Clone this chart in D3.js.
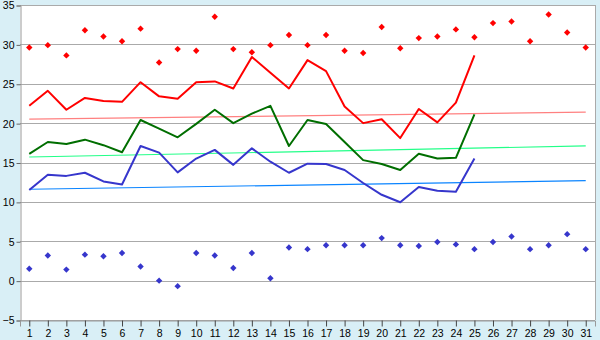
<!DOCTYPE html>
<html>
<head>
<meta charset="utf-8">
<script src="https://cdn.jsdelivr.net/npm/d3@7"></script>
<style>
  body { margin: 0; background: #d9eff6; }
  svg { display: block; }
  text { font-family: "Liberation Sans", Arial, sans-serif; font-size: 10.5px; fill: #000; }
</style>
</head>
<body>
<div id="chart"></div>
<script>
// days of the month
var days = d3.range(1, 32);

// daily maximum / minimum markers
var maxTemp = [29.6, 29.9, 28.6, 31.8, 31.0, 30.4, 32.0, 27.7, 29.4, 29.2,
               33.5, 29.4, 29.0, 29.9, 31.2, 29.9, 31.2, 29.2, 28.9, 32.2,
               29.5, 30.8, 31.0, 31.9, 30.9, 32.7, 32.9, 30.4, 33.8, 31.5, 29.6];
var minTemp = [1.5, 3.2, 1.4, 3.3, 3.1, 3.5, 1.8, 0.0, -0.7, 3.5,
               3.2, 1.6, 3.5, 0.3, 4.2, 4.0, 4.5, 4.5, 4.5, 5.4,
               4.5, 4.4, 4.9, 4.6, 4.0, 4.9, 5.6, 4.0, 4.5, 5.9, 4.0];

// line series (days 1..25)
var redLine   = [22.2, 24.1, 21.7, 23.2, 22.8, 22.7, 25.2, 23.4, 23.1, 25.2,
                 25.3, 24.4, 28.4, 26.4, 24.4, 28.0, 26.6, 22.1, 20.0, 20.5,
                 18.1, 21.8, 20.1, 22.6, 28.6];
var greenLine = [16.1, 17.6, 17.35, 17.9, 17.2, 16.3, 20.4, 19.3, 18.2, 19.9,
                 21.7, 20.0, 21.2, 22.2, 17.1, 20.4, 19.9, 17.6, 15.3, 14.8,
                 14.05, 16.1, 15.5, 15.6, 21.1];
var blueLine  = [11.5, 13.45, 13.3, 13.7, 12.6, 12.2, 17.1, 16.25, 13.75, 15.5,
                 16.6, 14.7, 16.8, 15.1, 13.7, 14.85, 14.8, 14.05, 12.4, 10.9,
                 9.95, 11.9, 11.4, 11.3, 15.5];

// trend lines: value at day 1 and at day 31
var trendDays  = [1, 31];
var redTrend   = [20.5, 21.4];
var greenTrend = [15.7, 17.1];
var blueTrend  = [11.6, 12.7];

var yTicks = [-5, 0, 5, 10, 15, 20, 25, 30, 35];

var width = 600, height = 340;
var plot = {left: 20, right: 595, top: 5, bottom: 320};

var x = d3.scaleLinear().domain([0.5, 31.5]).range([plot.left, plot.right]);
var y = d3.scaleLinear().domain([-5, 35]).range([plot.bottom, plot.top]);

var svg = d3.select("#chart").append("svg")
  .attr("width", width)
  .attr("height", height);

// white plotting area
svg.append("rect")
  .attr("x", plot.left).attr("y", plot.top)
  .attr("width", plot.right - plot.left)
  .attr("height", plot.bottom - plot.top)
  .attr("fill", "#fff");

// horizontal grid
svg.append("g")
  .selectAll("line")
  .data(yTicks)
  .enter().append("line")
  .attr("x1", plot.left).attr("x2", plot.right)
  .attr("y1", function(d) { return Math.round(y(d)) + 0.5; })
  .attr("y2", function(d) { return Math.round(y(d)) + 0.5; })
  .attr("stroke", "#aaaaaa");

// right border
svg.append("line")
  .attr("x1", plot.right + 0.5).attr("x2", plot.right + 0.5)
  .attr("y1", plot.top).attr("y2", plot.bottom)
  .attr("stroke", "#aaaaaa");

// y axis
var yAxis = svg.append("g")
  .attr("transform", "translate(" + (plot.left + 0.5) + ",0.5)")
  .call(d3.axisLeft(y).tickValues(yTicks).tickSize(4).tickPadding(2)
    .tickFormat(function(d) { return d < 0 ? "\u2212" + Math.abs(d) : d; }));
yAxis.select(".domain").attr("stroke", "#999");
yAxis.selectAll(".tick line").attr("stroke", "#666");
yAxis.selectAll("text").attr("fill", "#000");

// x axis
var xAxis = svg.append("g")
  .attr("transform", "translate(0," + (plot.bottom + 0.5) + ")")
  .call(d3.axisBottom(x).tickValues(days).tickSize(6).tickPadding(3)
    .tickFormat(d3.format("d")));
xAxis.select(".domain").attr("stroke", "#999");
xAxis.selectAll(".tick line").attr("stroke", "#444");
xAxis.selectAll("text").attr("fill", "#000");

// trend lines
var trendLine = d3.line()
  .x(function(d, i) { return x(trendDays[i]); })
  .y(function(d) { return y(d); });

[[redTrend, "#ff8080"], [greenTrend, "#22ff88"], [blueTrend, "#0a84ff"]].forEach(function(t) {
  svg.append("path")
    .attr("d", trendLine(t[0]))
    .attr("fill", "none")
    .attr("stroke", t[1])
    .attr("stroke-width", 1.2);
});

// main lines
var dayLine = d3.line()
  .x(function(d, i) { return x(days[i]); })
  .y(function(d) { return y(d); });

[[redLine, "#ff0000"], [greenLine, "#006e00"], [blueLine, "#3636cc"]].forEach(function(s) {
  svg.append("path")
    .attr("d", dayLine(s[0]))
    .attr("fill", "none")
    .attr("stroke", s[1])
    .attr("stroke-width", 2)
    .attr("stroke-linejoin", "round");
});

// max / min markers
var diamond = "M0,-3.2L3.2,0L0,3.2L-3.2,0Z";

[[maxTemp, "#ff0000"], [minTemp, "#3636cc"]].forEach(function(m) {
  svg.append("g")
    .selectAll("path")
    .data(m[0])
    .enter().append("path")
    .attr("d", diamond)
    .attr("fill", m[1])
    .attr("transform", function(d, i) {
      return "translate(" + x(days[i]) + "," + y(d) + ")";
    });
});
</script>
</body>
</html>
